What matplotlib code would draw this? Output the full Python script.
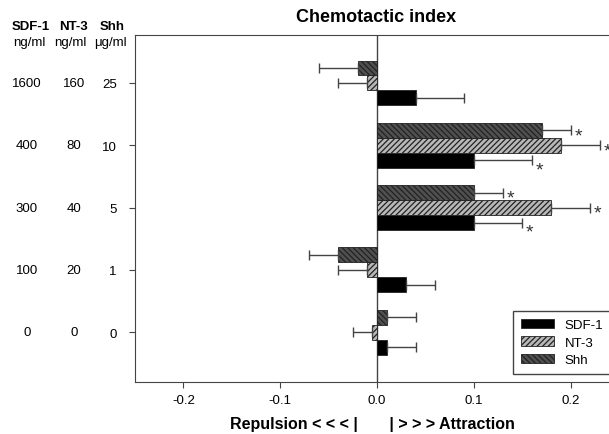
import matplotlib
matplotlib.use('Agg')
import matplotlib.pyplot as plt
import numpy as np
from matplotlib.patches import Patch

plt.rcParams['font.family'] = ['Liberation Sans', 'DejaVu Sans']
plt.rcParams['hatch.linewidth'] = 0.9

# groups from bottom (0) to top (highest dose)
sdf1_dose = ['0', '100', '300', '400', '1600']
nt3_dose = ['0', '20', '40', '80', '160']
shh_dose = ['0', '1', '5', '10', '25']

sdf1 = [0.01, 0.03, 0.10, 0.10, 0.04]
sdf1_err = [0.03, 0.03, 0.05, 0.06, 0.05]
nt3 = [-0.005, -0.01, 0.18, 0.19, -0.01]
nt3_err = [0.02, 0.03, 0.04, 0.04, 0.03]
shh = [0.01, -0.04, 0.10, 0.17, -0.02]
shh_err = [0.03, 0.03, 0.03, 0.03, 0.04]

sdf1_sig = [False, False, True, True, False]
nt3_sig = [False, False, True, True, False]
shh_sig = [False, False, True, True, False]

fig = plt.figure(figsize=(6.09, 4.35), dpi=100)
ax = fig.add_axes([135 / 609, 52 / 435, 484 / 609, 347 / 435])

y = np.arange(len(sdf1))
h = 0.24
gray = '#444444'
fs = 9.5

series = [
    (sdf1, sdf1_err, sdf1_sig, -h, 'black', None, 'SDF-1', -0.06),
    (nt3, nt3_err, nt3_sig, 0, '#b8b8b8', '//////', 'NT-3', 0.0),
    (shh, shh_err, shh_sig, h, '#505050', '\\\\\\\\\\\\', 'Shh', 0.0),
]

handles = []
for vals, errs, sig, off, fc, hatch, name, sy in series:
    vals = np.array(vals)
    errs = np.array(errs)
    ax.barh(y + off, vals, height=h, color=fc, edgecolor='#222222',
            hatch=hatch, linewidth=0.6, zorder=2)
    lo = np.where(vals < 0, errs, 0)
    hi = np.where(vals >= 0, errs, 0)
    ax.errorbar(vals, y + off, xerr=[lo, hi], fmt='none', ecolor=gray,
                elinewidth=1, capsize=3.5, capthick=1, zorder=3)
    for i in range(len(vals)):
        if sig[i]:
            ax.text(vals[i] + errs[i] + 0.004, y[i] + off + sy - 0.09, '*',
                    fontsize=14, color='#333333', ha='left', va='center')
    handles.append(Patch(facecolor=fc, edgecolor='#222222', hatch=hatch,
                         linewidth=0.6, label=name))

ax.axvline(0, color=gray, lw=1, zorder=1)
ax.set_xlim(-0.25, 0.25)
ax.set_ylim(-0.8, 4.77)
ax.set_xticks([-0.2, -0.1, 0.0, 0.1, 0.2])
ax.set_xticklabels(['-0.2', '-0.1', '0.0', '0.1', '0.2'], fontsize=fs)
ax.set_yticks(y)
ax.set_yticklabels(shh_dose, fontsize=fs)
ax.tick_params(direction='out', length=4, color=gray, pad=9)
ax.tick_params(axis='x', pad=5)
for s in ax.spines.values():
    s.set_color(gray)

for i in range(len(y)):
    yy = ax.transData.transform((0, y[i]))[1] / fig.dpi / 4.35
    fig.text(27 / 609, yy, sdf1_dose[i], fontsize=fs, ha='center', va='center')
    fig.text(74 / 609, yy, nt3_dose[i], fontsize=fs, ha='center', va='center')

fig.text(31 / 609, 1 - 27 / 435, 'SDF-1', fontsize=fs, weight='bold', ha='center', va='center')
fig.text(73 / 609, 1 - 27 / 435, 'NT-3', fontsize=fs, weight='bold', ha='center', va='center')
fig.text(112 / 609, 1 - 27 / 435, 'Shh', fontsize=fs, weight='bold', ha='center', va='center')
fig.text(29 / 609, 1 - 43 / 435, 'ng/ml', fontsize=fs, ha='center', va='center')
fig.text(70 / 609, 1 - 43 / 435, 'ng/ml', fontsize=fs, ha='center', va='center')
fig.text(110 / 609, 1 - 43 / 435, 'μg/ml', fontsize=fs, ha='center', va='center')

fig.text(376 / 609, 1 - 18 / 435, 'Chemotactic index', fontsize=13, weight='bold',
         ha='center', va='center')
fig.text(372 / 609, 1 - 425 / 435, 'Repulsion < < < |       | > > > Attraction',
         fontsize=11.5, weight='bold', ha='center', va='center')

ax.legend(handles=handles, loc='lower left', bbox_to_anchor=(513 / 609, 60 / 435),
          bbox_transform=fig.transFigure, borderaxespad=0, fontsize=9.5,
          handlelength=2.5, handleheight=0.7, fancybox=False, edgecolor=gray,
          framealpha=1, labelspacing=0.4, borderpad=0.6)

fig.savefig('out.png', dpi=100)
